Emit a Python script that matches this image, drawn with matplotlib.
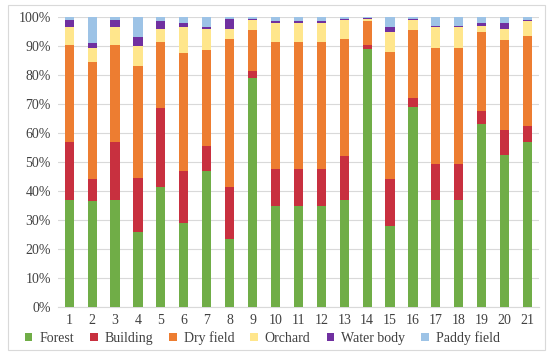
import matplotlib.pyplot as plt
import numpy as np
from matplotlib.patches import Rectangle

plt.rcParams['font.family'] = ['Liberation Serif', 'DejaVu Serif']

samples = [str(i) for i in range(1, 22)]

# shares in percent
forest = [37, 36.5, 37, 26, 41.5, 29, 47, 23.5, 79, 35, 35, 35, 37, 89, 28, 69, 37, 37, 63, 52.5, 57]
building = [20, 7.5, 20, 18.5, 27, 18, 8.5, 18, 2.5, 12.5, 12.5, 12.5, 15, 1.5, 16, 3, 12.5, 12.5, 4.5, 8.5, 5.5]
dry_field = [33.5, 40.5, 33.5, 38.5, 23, 40.5, 33, 51, 14, 44, 44, 44, 40.5, 8, 44, 23.5, 40, 40, 27.5, 31, 31]
orchard = [6, 5, 6, 7, 4.5, 9, 7.5, 3.5, 3.5, 6.5, 6.5, 6.5, 6.5, 1, 7, 3.5, 7, 7, 2, 4, 5]
water_body = [2.5, 1.5, 2.5, 3, 2.5, 1.5, 0.5, 3.5, 0.2, 0.5, 0.5, 0.5, 0.2, 0.2, 1.5, 0.2, 0.5, 0.5, 1, 2, 0.5]
paddy_field = [100 - a - b - c - d - e for a, b, c, d, e in zip(forest, building, dry_field, orchard, water_body)]

series = [
    ('Forest', forest, '#70AD47'),
    ('Building', building, '#C8303F'),
    ('Dry field', dry_field, '#ED7D31'),
    ('Orchard', orchard, '#FFE68C'),
    ('Water body', water_body, '#7030A0'),
    ('Paddy field', paddy_field, '#9DC3E6'),
]

fig = plt.figure(figsize=(5.5, 3.57), dpi=100)
ax = fig.add_axes([0.105, 0.14, 0.875, 0.812])

# outer frame around the whole chart
fig.patches.append(Rectangle((0.015, 0.02), 0.975, 0.965, transform=fig.transFigure,
                             fill=False, edgecolor='#D9D9D9', linewidth=0.8))

x = np.arange(len(samples))
bottom = np.zeros(len(samples))
for name, vals, col in series:
    vals = np.array(vals, dtype=float) / 100
    ax.bar(x, vals, 0.4, bottom=bottom, color=col, label=name, zorder=3)
    bottom += vals

ax.set_xlim(-0.5, len(samples) - 0.5)
ax.set_ylim(0, 1)
ax.set_yticks(np.arange(0, 1.01, 0.1))
ax.set_yticklabels([f'{int(round(v * 100))}%' for v in np.arange(0, 1.01, 0.1)])
ax.set_xticks(x)
ax.set_xticklabels(samples)
ax.yaxis.grid(True, color='#D9D9D9', linewidth=0.8, zorder=0)
for s in ['top', 'right', 'left']:
    ax.spines[s].set_visible(False)
ax.spines['bottom'].set_color('#D9D9D9')
ax.tick_params(axis='both', length=0, labelsize=10, colors='#404040', pad=5)

ax.legend(loc='center', bbox_to_anchor=(0.425, -0.107), ncol=6, frameon=False,
          fontsize=10, handlelength=0.55, handleheight=0.55, handletextpad=0.5,
          columnspacing=1.15, labelcolor='#404040', borderpad=0)

fig.savefig('out.png', dpi=100)
